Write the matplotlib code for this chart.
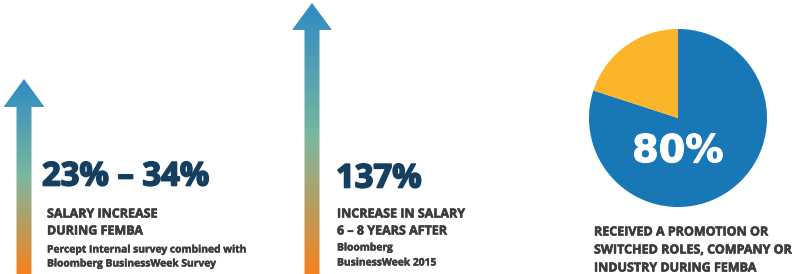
import numpy as np
import matplotlib
matplotlib.use("Agg")
import matplotlib.pyplot as plt
import matplotlib.patheffects as pe
from matplotlib.colors import LinearSegmentedColormap
from matplotlib.patches import Polygon

# stats shown next to the two arrows
stat_values = ["23% \u2013 34%", "137%"]
stat_titles = [["SALARY INCREASE", "DURING FEMBA"],
               ["INCREASE IN SALARY", "6 \u2013 8 YEARS AFTER"]]
stat_sources = [["Percept Internal survey combined with", "Bloomberg BusinessWeek Survey"],
                ["Bloomberg", "BusinessWeek 2015"]]

# pie data
pie_values = [80, 20]
pie_colors = ["#1878b6", "#fbb52b"]
pie_label = "80%"
pie_caption = ["RECEIVED A PROMOTION OR", "SWITCHED ROLES, COMPANY OR", "INDUSTRY DURING FEMBA"]

W, H = 792, 274
navy = "#143f60"
gray = "#3c3c3c"
FONT = "Open Sans"

fig = plt.figure(figsize=(W / 100, H / 100), dpi=100)
ax = fig.add_axes([0, 0, 1, 1])
ax.set_xlim(0, W)
ax.set_ylim(H, 0)
ax.axis("off")

grad = LinearSegmentedColormap.from_list("arr", ["#2f8bc3", "#7bb79f", "#f5821f"])


def draw_arrow(cx, top, head_base, head_w, shaft_w, bottom=H):
    pts = [(cx, top), (cx + head_w / 2, head_base), (cx + shaft_w / 2, head_base),
           (cx + shaft_w / 2, bottom), (cx - shaft_w / 2, bottom),
           (cx - shaft_w / 2, head_base), (cx - head_w / 2, head_base)]
    poly = Polygon(pts, closed=True, facecolor="none", edgecolor="none")
    ax.add_patch(poly)
    g = np.linspace(0, 1, 256).reshape(-1, 1)
    im = ax.imshow(g, cmap=grad, aspect="auto",
                   extent=(cx - head_w / 2, cx + head_w / 2, bottom, top))
    im.set_clip_path(poly)


draw_arrow(24, 79, 107, 41, 15)
draw_arrow(312, 3, 30, 40, 15)
ax.set_xlim(0, W)
ax.set_ylim(H, 0)

heavy = lambda c, w: [pe.withStroke(linewidth=w, foreground=c)]

# arrow text blocks
value_x = [42, 336]
value_y = [177, 179]
label_x = [47, 337]
for i in range(2):
    ax.text(value_x[i], value_y[i], stat_values[i], fontsize=23.6, fontweight="bold",
            color=navy, family=FONT, va="center", ha="left",
            path_effects=heavy(navy, 1.2))
    for j, line in enumerate(stat_titles[i]):
        ax.text(label_x[i], 214 + 17 * j, line, fontsize=9.0, fontweight="bold",
                color=gray, family=FONT, va="center", path_effects=heavy(gray, 0.4))
    ys = [250, 264] if i == 0 else [248, 263]
    for j, line in enumerate(stat_sources[i]):
        ax.text(label_x[i], ys[j], line, fontsize=7.4, fontweight="bold",
                color=gray, family=FONT, va="center", path_effects=heavy(gray, 0.3))

# pie
cx, cy, r = 678, 118, 89
pax = fig.add_axes([(cx - r) / W, (H - cy - r) / H, 2 * r / W, 2 * r / H])
pax.pie(pie_values, colors=pie_colors, startangle=90, counterclock=False,
        wedgeprops=dict(linewidth=0))
pax.set_xlim(-1, 1)
pax.set_ylim(-1, 1)
pax.axis("off")
pax.text(0, -(152 - cy) / r, pie_label, fontsize=27.5, fontweight="bold", color="white",
         family="DejaVu Sans", ha="center", va="center", zorder=5,
         path_effects=heavy("white", 0.8))
for j, line in enumerate(pie_caption):
    ax.text(594, 232 + 18 * j, line, fontsize=9.0, fontweight="bold",
            color=gray, family=FONT, va="center", path_effects=heavy(gray, 0.4))

fig.savefig("out.png", dpi=100)
